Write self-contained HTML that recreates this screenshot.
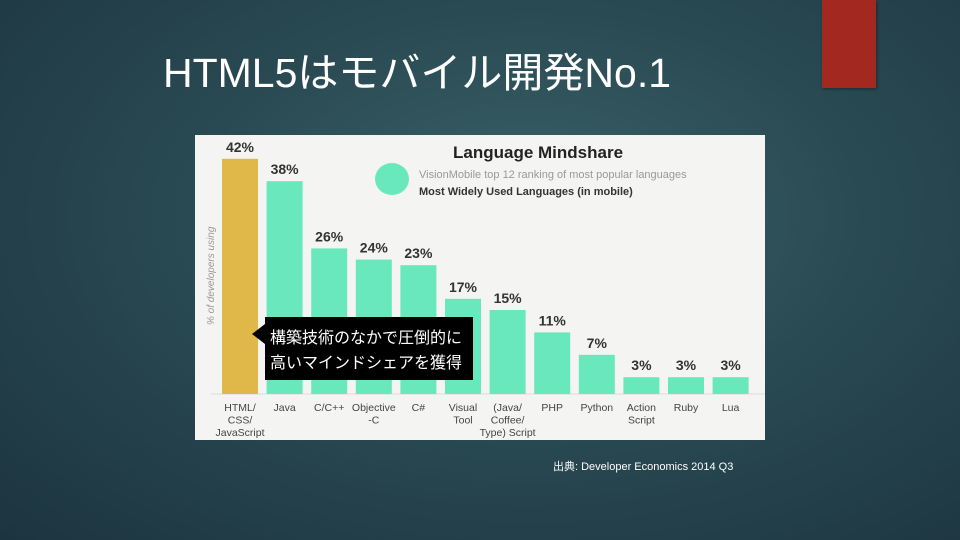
<!DOCTYPE html>
<html><head><meta charset="utf-8"><style>
html,body{margin:0;padding:0}
body{width:960px;height:540px;overflow:hidden;position:relative;font-family:"Liberation Sans","Noto Sans CJK JP",sans-serif;
background:radial-gradient(ellipse at 55% 40%,#3a6268 0%,#2a4a53 45%,#1c3440 100%);}
#title{position:absolute;left:163px;top:39px;color:#fff;font-size:41px;white-space:nowrap}
#accent{position:absolute;left:822px;top:0;width:54px;height:88px;background:#a3281f;box-shadow:1px 1px 3px rgba(0,0,0,.4)}
#chart{position:absolute;left:195px;top:135px;width:570px;height:305px;background:#f4f4f2}
#src{position:absolute;left:553px;top:458px;color:#fff;font-size:11px}
</style></head><body>
<div id="title">HTML5はモバイル開発No.1</div>
<div id="accent"></div>
<div id="chart">
<svg id="svg" width="570" height="305" style="position:absolute;left:0;top:0">
<text x="258" y="23" font-size="17" font-weight="bold" fill="#222">Language Mindshare</text>
<ellipse cx="197" cy="44" rx="17" ry="16" fill="#6ae8bd"/>
<text x="224" y="43" font-size="11" fill="#999">VisionMobile top 12 ranking of most popular languages</text>
<text x="224" y="60" font-size="11" font-weight="bold" fill="#333">Most Widely Used Languages (in mobile)</text>
<text transform="translate(19,190) rotate(-90)" font-size="10" font-style="italic" fill="#999">% of developers using</text>
<line x1="16" y1="259" x2="570" y2="259" stroke="#ddd"/>
<g id="bars"></g>
</svg>
<svg width="570" height="305" style="position:absolute;left:0;top:0">
<polygon points="57,199 70,189 70,209" fill="#000"/>
<rect x="70" y="182" width="208" height="63" fill="#000"/>
<text x="75" y="208" font-size="16" fill="#fff">構築技術のなかで圧倒的に</text>
<text x="75" y="233" font-size="16" fill="#fff">高いマインドシェアを獲得</text>
</svg>
</div>
<div id="src">出典: Developer Economics 2014 Q3</div>
<script>
const categories=[["HTML/","CSS/","JavaScript"],["Java"],["C/C++"],["Objective","-C"],["C#"],["Visual","Tool"],["(Java/","Coffee/","Type) Script"],["PHP"],["Python"],["Action","Script"],["Ruby"],["Lua"]];
const values=[42,38,26,24,23,17,15,11,7,3,3,3];
const valueLabels=["42%","38%","26%","24%","23%","17%","15%","11%","7%","3%","3%","3%"];
const NS="http://www.w3.org/2000/svg";
const g=document.getElementById('bars');
const base=259,scale=5.6,x0=27,step=44.6,bw=36;
function xPos(i){return x0+i*step;}
function yPos(v){return base-v*scale;}
values.forEach((v,i)=>{
 const r=document.createElementNS(NS,'rect');
 r.setAttribute('x',xPos(i));r.setAttribute('y',yPos(v));
 r.setAttribute('width',bw);r.setAttribute('height',base-yPos(v));
 r.setAttribute('fill',i===0?'#e0b84a':'#6ae8bd');
 
 
 g.appendChild(r);
 const t=document.createElementNS(NS,'text');
 t.setAttribute('x',xPos(i)+bw/2);t.setAttribute('y',yPos(v)-7);
 t.setAttribute('text-anchor','middle');t.setAttribute('font-size','14');t.setAttribute('font-weight','bold');t.setAttribute('fill','#333');
 t.textContent=valueLabels[i];
 
 
 g.appendChild(t);
 categories[i].forEach((line,j)=>{
  const c=document.createElementNS(NS,'text');
  c.setAttribute('x',xPos(i)+bw/2);c.setAttribute('y',276+j*12.5);
  c.setAttribute('text-anchor','middle');c.setAttribute('font-size','10.5');c.setAttribute('fill','#444');
  c.textContent=line;
  
  
  g.appendChild(c);
 });
});
</script>
</body></html>
